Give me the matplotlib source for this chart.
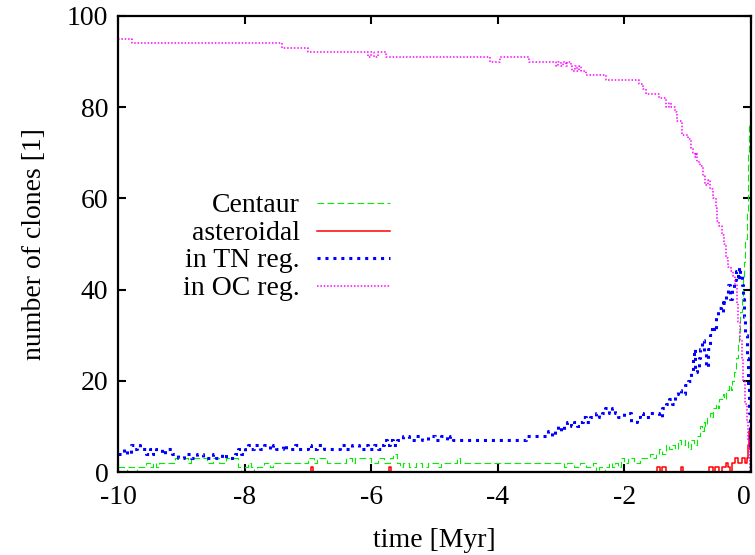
import matplotlib
matplotlib.use('Agg')
import matplotlib.pyplot as plt

# number of clones in each region vs. time (Myr)
t_cen = [-10.0, -9.9, -9.85, -9.75, -9.7, -9.55, -9.5, -9.45, -9.4, -9.35, -9.1, -8.9, -8.85,
         -8.6, -8.5, -8.4, -8.3, -8.1, -8.05, -8.0, -7.95, -7.9, -7.85, -7.8, -7.7, -7.6, -7.55,
         -7.0, -6.9, -6.85, -6.7, -6.4, -6.3, -6.25, -6.0, -5.9, -5.8, -5.7, -5.65, -5.6, -5.55,
         -5.5, -5.4, -5.3, -5.2, -5.1, -4.95, -4.9, -4.65, -4.6, -2.95, -2.9, -2.8, -2.7, -2.6,
         -2.5, -2.45, -2.4, -2.35, -2.3, -2.25, -2.2, -2.15, -2.1, -2.05, -2.0, -1.95, -1.85,
         -1.75, -1.6, -1.55, -1.5, -1.45, -1.4, -1.35, -1.3, -1.25, -1.2, -1.15, -1.1, -1.05,
         -1.0, -0.95, -0.9, -0.85, -0.8, -0.78, -0.75, -0.72, -0.7, -0.65, -0.62, -0.6, -0.55,
         -0.52, -0.5, -0.45, -0.42, -0.4, -0.35, -0.32, -0.3, -0.27, -0.24, -0.21, -0.19, -0.17,
         -0.15, -0.13, -0.11, -0.09, -0.07, -0.055, -0.04, -0.028, -0.016, 0.0]
n_cen = [1, 0, 1, 0, 1, 2, 1, 2, 1, 2, 3, 2, 3,
         2, 3, 2, 3, 1, 0, 1, 2, 1, 0, 1, 2, 1, 2,
         3, 2, 3, 2, 3, 2, 3, 2, 3, 2, 3, 4, 2, 1,
         2, 1, 2, 1, 2, 1, 2, 3, 2, 1, 2, 1, 2, 1,
         2, 0, 1, 0, 1, 2, 1, 2, 1, 3, 2, 3, 2,
         3, 4, 3, 4, 5, 4, 6, 5, 6, 5, 7, 6, 7,
         5, 7, 6, 8, 10, 9, 11, 10, 12, 13, 12, 14, 15,
         14, 16, 17, 16, 18, 19, 18, 20, 22, 25, 28, 31, 35,
         38, 42, 46, 51, 57, 63, 70, 76, 81, 81]

t_ast = [-10.0, -6.95, -6.92, -5.72, -5.69, -1.49, -1.44, -1.4, -1.35, -1.1, -1.07, -0.66,
         -0.6, -0.57, -0.5, -0.46, -0.4, -0.37, -0.33, -0.3, -0.25, -0.2, -0.15, -0.1, -0.07,
         -0.05, -0.04, -0.03, -0.02, -0.01, 0.0]
n_ast = [0, 1, 0, 1, 0, 1, 0, 1, 0, 1, 0, 1,
         0, 1, 0, 1, 2, 1, 0, 2, 3, 2, 3, 2, 3,
         4, 6, 9, 5, 8, 8]

t_tn = [-10.0, -9.9, -9.85, -9.8, -9.75, -9.7, -9.65, -9.55, -9.5, -9.45, -9.4, -9.3, -9.25,
        -9.15, -9.05, -8.95, -8.85, -8.75, -8.65, -8.5, -8.45, -8.35, -8.3, -8.15, -8.1, -8.05,
        -8.0, -7.95, -7.9, -7.85, -7.75, -7.7, -7.6, -7.55, -7.5, -7.4, -7.35, -7.2, -7.15,
        -7.0, -6.95, -6.85, -6.75, -6.5, -6.4, -6.3, -6.2, -6.1, -6.05, -5.95, -5.9, -5.85,
        -5.8, -5.75, -5.7, -5.65, -5.6, -5.5, -5.4, -5.3, -5.2, -5.1, -5.0, -4.9, -4.8, -4.75,
        -4.7, -3.55, -3.2, -3.15, -3.1, -3.05, -3.0, -2.95, -2.9, -2.85, -2.8, -2.75, -2.7,
        -2.65, -2.6, -2.55, -2.45, -2.4, -2.35, -2.3, -2.25, -2.2, -2.15, -2.1, -2.0, -1.9,
        -1.8, -1.75, -1.7, -1.6, -1.45, -1.4, -1.35, -1.3, -1.25, -1.2, -1.15, -1.1, -1.05,
        -1.0, -0.95, -0.92, -0.9, -0.88, -0.85, -0.82, -0.8, -0.77, -0.74, -0.71, -0.68, -0.65,
        -0.62, -0.58, -0.55, -0.52, -0.48, -0.45, -0.42, -0.39, -0.36, -0.33, -0.3, -0.27,
        -0.24, -0.21, -0.19, -0.17, -0.15, -0.13, -0.11, -0.09, -0.07, -0.05, -0.03, -0.015, 0.0]
n_tn = [4, 5, 4, 6, 5, 6, 5, 4, 5, 4, 5, 4, 5,
        4, 3, 4, 3, 4, 3, 4, 3, 4, 3, 4, 5, 4,
        5, 6, 5, 6, 5, 6, 5, 6, 5, 6, 5, 6, 5,
        6, 5, 6, 5, 6, 5, 6, 5, 6, 5, 6, 5, 6,
        7, 6, 7, 6, 7, 8, 7, 8, 7, 8, 7, 8, 7, 8,
        7, 8, 9, 8, 9, 10, 9, 10, 11, 10, 11, 10, 11,
        12, 11, 12, 13, 12, 13, 14, 13, 14, 13, 12, 13, 11,
        12, 13, 12, 13, 12, 14, 15, 16, 15, 17, 18, 17, 19,
        20, 22, 25, 27, 22, 23, 25, 27, 29, 26, 23, 27, 30,
        32, 31, 34, 36, 35, 38, 37, 39, 41, 38, 40, 42,
        44, 42, 45, 43, 41, 38, 34, 30, 25, 19, 13, 6, 0]

t_oc = [-10.0, -9.78, -7.41, -7.0, -6.05, -6.0, -5.95, -5.9, -5.76, -4.13, -3.97, -3.5, -3.08,
        -3.05, -3.0, -2.97, -2.93, -2.9, -2.85, -2.82, -2.78, -2.75, -2.72, -2.68, -2.6, -2.29,
        -1.77, -1.7, -1.66, -1.45, -1.34, -1.3, -1.27, -1.2, -1.17, -1.09, -1.0, -0.95, -0.92,
        -0.89, -0.87, -0.85, -0.8, -0.76, -0.72, -0.68, -0.65, -0.6, -0.56, -0.53, -0.5, -0.46,
        -0.43, -0.4, -0.36, -0.32, -0.28, -0.25, -0.22, -0.2, -0.17, -0.15, -0.12, -0.09, -0.07,
        -0.05, -0.03, -0.01, 0.0]
n_oc = [95, 94, 93, 92, 91, 92, 91, 92, 91, 90, 91, 90, 89,
        90, 89, 90, 89, 90, 89, 88, 89, 88, 89, 88, 87, 86,
        85, 84, 83, 82, 80, 81, 80, 79, 77, 74, 73, 71, 70,
        69, 70, 68, 67, 65, 63, 64, 62, 60, 58, 55, 54, 52,
        50, 47, 45, 44, 43, 41, 37, 33, 29, 25, 20, 15, 11,
        7, 3, 0, 0]

labels = ['Centaur', 'asteroidal', 'in TN reg.', 'in OC reg.']
colors = ['#00ee00', '#ff0000', '#0000ff', '#ff00ff']
widths = [0.8, 1.1, 2.2, 1.1]
dash_list = [(6, 3), None, (1, 1.6), (1, 1.2)]

plt.rcParams['font.family'] = 'Liberation Serif'
plt.rcParams['font.size'] = 20
plt.rcParams['axes.unicode_minus'] = False

fig = plt.figure(figsize=(7.55, 5.55), dpi=100)
ax = fig.add_axes([118 / 755, 1 - 472 / 555, 633 / 755, 456 / 555])

series = [(t_cen, n_cen), (t_ast, n_ast), (t_tn, n_tn), (t_oc, n_oc)]
for (t, n), c, w, d in zip(series, colors, widths, dash_list):
    kw = {'dashes': d} if d else {}
    ax.step(t, n, where='post', color=c, lw=w, **kw)

ax.set_xlim(-10, 0)
ax.set_ylim(0, 100)
ax.set_xticks([-10, -8, -6, -4, -2, 0])
ax.set_yticks([0, 20, 40, 60, 80, 100])
ax.tick_params(direction='in', length=6, width=1.5, top=True, right=True, pad=9)
ax.tick_params(axis='y', pad=7)
for s in ax.spines.values():
    s.set_linewidth(1.6)
# last x label sits on the figure edge; nudge it inside
ax.get_xticklabels()[-1].set_horizontalalignment('right')

ax.set_xlabel('time [Myr]', labelpad=13)
ax.set_ylabel('number of clones [1]', labelpad=14)

# key drawn by hand: text right aligned, sample line to the right
rows = [0.590, 0.5285, 0.469, 0.408]
for lab, y, c, w, d in zip(labels, rows, colors, widths, dash_list):
    kw = {'dashes': d} if d else {}
    ax.text(0.2875, y - 0.019, lab, ha='right', va='baseline', transform=ax.transAxes)
    ax.plot([0.3144, 0.4297], [y, y], transform=ax.transAxes, color=c, lw=w, **kw)

fig.savefig('out.png', dpi=100)
